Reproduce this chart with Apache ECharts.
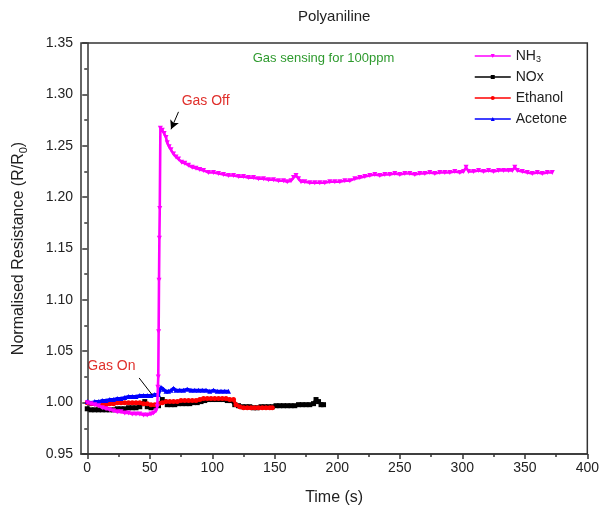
<!DOCTYPE html>
<html>
<head>
<meta charset="utf-8">
<script src="https://cdn.jsdelivr.net/npm/echarts@6/dist/echarts.min.js"></script>
<style>
  html, body { margin: 0; padding: 0; background: #fff; }
  #chart { width: 602px; height: 519px; }
</style>
</head>
<body>
<div id="chart"></div>
<script>
// Normalised resistance R/R0 of a polyaniline sensor vs time, 100 ppm of each gas
const nh3Data = [
  [0,1.000],[3,0.999],[6,0.998],[9,0.997],[12,0.995],[15,0.994],[18,0.993],[21,0.992],[24,0.991],[27,0.991],
  [30,0.990],[33,0.990],[36,0.989],[39,0.989],[42,0.989],[45,0.988],[48,0.988],[51,0.989],[53,0.990],[55,0.992],
  [56,0.996],[56.5,1.015],[56.8,1.025],[57.1,1.069],[57.4,1.119],[57.7,1.160],[58,1.189],[58.5,1.267],[60,1.265],
  [61.5,1.262],[63,1.258],[64,1.253],[65.5,1.249],[67,1.246],[69,1.242],[71,1.239],[73,1.237],[75.5,1.234],
  [78,1.233],[81,1.231],[84,1.229],[87,1.228],[90,1.227],[93,1.226],[97,1.224],[101,1.224],[105,1.223],
  [109,1.222],[113,1.221],[117,1.221],[121,1.220],[125,1.220],[129,1.219],[133,1.219],[137,1.218],[141,1.218],
  [145,1.217],[149,1.217],[153,1.216],[157,1.216],[160,1.215],[163,1.216],[165,1.219],[167,1.221],[169,1.218],
  [171,1.215],[174,1.215],[178,1.214],[182,1.214],[186,1.214],[190,1.214],[194,1.215],[198,1.215],[202,1.215],
  [206,1.216],[210,1.216],[214,1.218],[218,1.219],[222,1.220],[226,1.221],[230,1.222],[234,1.221],[238,1.222],
  [242,1.222],[246,1.223],[250,1.222],[254,1.223],[258,1.223],[262,1.222],[266,1.223],[270,1.223],[274,1.224],
  [278,1.223],[282,1.224],[286,1.224],[290,1.224],[294,1.225],[298,1.224],[301,1.225],[303,1.229],[305,1.225],
  [309,1.225],[313,1.226],[317,1.225],[321,1.226],[325,1.225],[329,1.226],[333,1.226],[337,1.226],[340,1.226],
  [342,1.229],[344,1.226],[348,1.225],[352,1.224],[356,1.223],[360,1.224],[364,1.223],[368,1.224],[372,1.224]
];
const noxData = [
  [0,0.994],[3,0.993],[6,0.993],[9,0.993],[12,0.993],[15,0.993],[18,0.993],[21,0.993],[24,0.994],[27,0.994],
  [30,0.994],[33,0.995],[36,0.995],[39,0.995],[42,0.996],[44,0.999],[46,1.001],[48,0.996],[51,0.995],[54,0.996],
  [57,0.997],[60,1.003],[62,1.001],[64,0.998],[67,0.998],[70,0.998],[73,0.999],[76,0.999],[79,0.999],[82,0.999],
  [85,1.000],[88,1.000],[91,1.001],[94,1.002],[97,1.003],[100,1.003],[103,1.003],[106,1.003],[109,1.003],
  [112,1.002],[115,1.002],[118,0.998],[121,0.997],[124,0.996],[127,0.996],[130,0.996],[133,0.995],[136,0.995],
  [139,0.996],[142,0.996],[145,0.996],[148,0.996],[151,0.997],[154,0.997],[157,0.997],[160,0.997],[163,0.997],
  [166,0.997],[169,0.998],[172,0.998],[175,0.998],[178,0.998],[181,0.999],[183,1.003],[185,1.001],[187,0.998],
  [189,0.998]
];
const ethanolData = [
  [0,1.000],[3,0.999],[6,0.999],[9,0.998],[12,0.998],[15,0.998],[18,0.999],[21,0.999],[24,1.000],[27,1.000],
  [30,1.000],[33,1.000],[36,1.000],[39,1.000],[42,1.000],[45,0.999],[48,0.999],[51,0.998],[54,0.998],[57,0.999],
  [60,1.000],[63,1.001],[66,1.001],[69,1.001],[72,1.001],[75,1.002],[78,1.002],[81,1.002],[84,1.002],[87,1.002],
  [90,1.003],[93,1.004],[96,1.004],[99,1.004],[102,1.004],[105,1.004],[108,1.004],[111,1.004],[114,1.003],
  [117,1.003],[119,0.998],[122,0.996],[125,0.995],[128,0.995],[131,0.995],[134,0.995],[137,0.995],[140,0.995],
  [143,0.995],[146,0.995],[148,0.995]
];
const acetoneData = [
  [0,1.001],[3,1.000],[6,1.001],[9,1.001],[12,1.002],[15,1.002],[18,1.003],[21,1.003],[24,1.004],[27,1.004],
  [30,1.005],[33,1.006],[36,1.006],[39,1.006],[42,1.007],[45,1.007],[48,1.007],[51,1.007],[54,1.008],[57,1.008],
  [59,1.015],[61,1.013],[63,1.011],[65,1.011],[67,1.012],[69,1.014],[71,1.012],[74,1.012],[77,1.012],[80,1.013],
  [83,1.012],[86,1.012],[89,1.012],[92,1.012],[95,1.012],[98,1.011],[101,1.012],[104,1.011],[107,1.011],
  [110,1.011],[113,1.011]
];

const legendOrder = ['NH3', 'NOx', 'Ethanol', 'Acetone'];
const xTicks = [0, 50, 100, 150, 200, 250, 300, 350, 400];
const xMinorTicks = [25, 75, 125, 175, 225, 275, 325, 375];

const FONT = '"Liberation Sans", Arial, sans-serif';
const AXIS_COLOR = '#333';
const TEXT_COLOR = '#222';

const chart = echarts.init(document.getElementById('chart'));

function lineSeries(name, data, color, symbol, rotate, z) {
  return {
    name: name,
    type: 'line',
    data: data,
    z: z,
    symbol: symbol,
    symbolRotate: rotate,
    symbolSize: 5,
    showSymbol: true,
    lineStyle: { color: color, width: 3 },
    itemStyle: { color: color, borderWidth: 0 },
    emphasis: { disabled: true }
  };
}

const nh3Series = lineSeries('NH3', nh3Data, '#ff00ff', 'triangle', 180, 5);
// thinner stroke on the steep rise so it reads as a single trace
nh3Series.lineStyle.width = 2.6;
// arrows marking the gas switching points
nh3Series.markLine = {
  silent: true,
  animation: false,
  symbol: ['none', 'arrow'],
  symbolSize: [7, 9],
  label: { show: false },
  lineStyle: { color: '#000', width: 1, type: 'solid' },
  data: [
    [{ coord: [73, 1.283] }, { coord: [67, 1.266] }],
    [{ coord: [41.5, 1.024], symbol: 'none' }, { coord: [52, 1.0075], symbol: 'none' }]
  ]
};

const option = {
  animation: false,
  backgroundColor: '#fff',
  textStyle: { fontFamily: FONT },
  grid: {
    left: 81, right: 12, top: 43, bottom: 65,
    show: true, borderColor: AXIS_COLOR, borderWidth: 1.5, backgroundColor: 'transparent'
  },
  legend: {
    data: legendOrder.map(function (n) {
      return { name: n, itemStyle: { borderWidth: 0 }, lineStyle: { width: 1.5 } };
    }),
    orient: 'vertical',
    left: 469,
    top: 43,
    itemWidth: 36,
    itemHeight: 5,
    itemGap: 5,
    selectedMode: false,
    textStyle: {
      fontFamily: FONT, fontSize: 14, color: TEXT_COLOR, lineHeight: 16,
      rich: { s: { fontSize: 9, fontFamily: FONT, color: TEXT_COLOR, verticalAlign: 'bottom', lineHeight: 16, padding: [7, 0, 0, 0] } }
    },
    formatter: function (name) { return name === 'NH3' ? 'NH{s|3}' : name; }
  },
  xAxis: [
    {
      type: 'value', min: -5, max: 400, position: 'bottom',
      axisLine: { show: true, onZero: false, lineStyle: { color: AXIS_COLOR, width: 1.5 } },
      axisTick: { show: true, customValues: xTicks, length: 5, lineStyle: { color: AXIS_COLOR, width: 1.5 } },
      axisLabel: { customValues: xTicks, color: TEXT_COLOR, fontSize: 14, fontFamily: FONT, margin: 7 },
      splitLine: { show: false },
      name: 'Time (s)', nameLocation: 'middle', nameGap: 36,
      nameTextStyle: { fontSize: 16, color: TEXT_COLOR, fontFamily: FONT }
    },
    {
      type: 'value', min: -5, max: 400, position: 'bottom',
      axisLine: { show: false },
      axisTick: { show: true, customValues: xMinorTicks, length: 3, lineStyle: { color: AXIS_COLOR, width: 1.5 } },
      axisLabel: { show: false },
      splitLine: { show: false }
    }
  ],
  yAxis: {
    type: 'value', min: 0.95, max: 1.35, interval: 0.05,
    axisLine: { show: true, lineStyle: { color: AXIS_COLOR, width: 1.5 } },
    axisTick: { show: true, length: 5, lineStyle: { color: AXIS_COLOR, width: 1.5 } },
    minorTick: { show: true, splitNumber: 2, length: 3, lineStyle: { color: AXIS_COLOR, width: 1.5 } },
    axisLabel: {
      color: TEXT_COLOR, fontSize: 14, fontFamily: FONT, margin: 8,
      formatter: function (v) { return v.toFixed(2); }
    },
    splitLine: { show: false },
    name: 'Normalised Resistance (R/R{s|0})', nameLocation: 'middle', nameGap: 52,
    nameTextStyle: {
      fontSize: 16, color: TEXT_COLOR, fontFamily: FONT,
      rich: { s: { fontSize: 11, fontFamily: FONT, color: TEXT_COLOR, verticalAlign: 'bottom', padding: [9, 0, 0, 0] } }
    }
  },
  series: [
    lineSeries('NOx', noxData, '#000000', 'rect', 0, 2),
    lineSeries('Ethanol', ethanolData, '#ff0000', 'circle', 0, 3),
    lineSeries('Acetone', acetoneData, '#0000ff', 'triangle', 0, 4),
    nh3Series
  ]
};

chart.setOption(option);

// Title and annotations, placed at data coordinates
function at(t, v) { return chart.convertToPixel({ xAxisIndex: 0, yAxisIndex: 0 }, [t, v]); }
const plotCenterX = (at(-5, 1)[0] + at(400, 1)[0]) / 2;
const gasOffPos = at(75.5, 1.2935);
const gasOnPos = at(0, 1.0356);
const sensingPos = at(189, 1.3353);

chart.setOption({
  graphic: [
    { type: 'text', x: plotCenterX, y: 17, style: { text: 'Polyaniline', font: '15px ' + FONT, fill: TEXT_COLOR, align: 'center', verticalAlign: 'middle' } },
    { type: 'text', x: sensingPos[0], y: sensingPos[1], style: { text: 'Gas sensing for 100ppm', font: '13px ' + FONT, fill: '#2e9a2e', align: 'center', verticalAlign: 'middle' } },
    { type: 'text', x: gasOffPos[0], y: gasOffPos[1], style: { text: 'Gas Off', font: '14px ' + FONT, fill: '#e0302c', align: 'left', verticalAlign: 'middle' } },
    { type: 'text', x: gasOnPos[0], y: gasOnPos[1], style: { text: 'Gas On', font: '14px ' + FONT, fill: '#e0302c', align: 'left', verticalAlign: 'middle' } }
  ]
});
</script>
</body>
</html>
